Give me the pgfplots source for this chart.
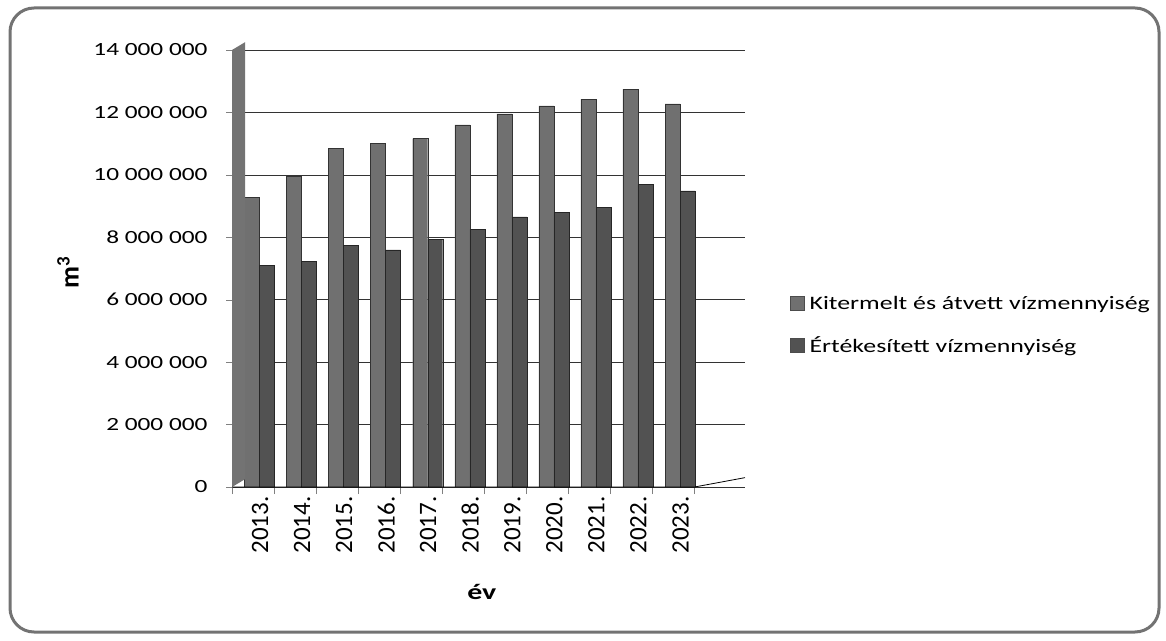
\documentclass[border=0pt]{standalone}
\usepackage{pgfplots}
\pgfplotsset{compat=1.18}
\usepackage{fontspec}
\setmainfont[FakeStretch=1.36]{Carlito}
\newfontfamily\rotfont{Carlito}
\definecolor{serA}{gray}{0.44}
\definecolor{serB}{gray}{0.32}
\begin{document}
\begin{tikzpicture}[x=1pt,y=1pt]
\path (0,0) rectangle (1166,640);
\draw[black!55, line width=3pt, rounded corners=24pt] (10,8) rectangle (1159,632);
\begin{axis}[
  at={(232pt,153pt)}, anchor=south west,
  scale only axis, width=513pt, height=437pt,
  xmin=-0.5, xmax=11.7, ymin=0, ymax=14000000,
  clip=false,
  ybar, bar width=15pt,
  axis x line*=bottom, axis y line*=left,
  x axis line style={draw=none}, y axis line style={draw=none},
  tick pos=left, tick align=outside,
  xtick={0,...,10},
  xticklabels={2013.,2014.,2015.,2016.,2017.,2018.,2019.,2020.,2021.,2022.,2023.},
  major x tick style={draw=none},
  minor xtick={-0.5,0.5,...,10.5},
  minor tick length=7pt,
  x tick label style={font=\rotfont\fontsize{25}{25}\selectfont, rotate=90, anchor=east, yshift=-7pt},
  ytick={0,2000000,...,14000000},
  scaled y ticks=false,
  major tick length=6pt,
  y tick label style={font=\fontsize{18.6}{20}\selectfont, xshift=-15pt},
  yticklabel={\pgfmathprintnumber[fixed,precision=0,1000 sep={\ },assume math mode=true]{\tick}},
  ymajorgrids, grid style={black!80, line width=0.7pt},
  xlabel={\bfseries év},
  xlabel style={at={(rel axis cs:0.487,-0.240)}, anchor=center, font=\fontsize{22}{24}\selectfont},
  ylabel={\rotfont\bfseries m\textsuperscript{3}},
  ylabel style={at={(rel axis cs:-0.3197,0.49)}, anchor=center, font=\fontsize{27}{28}\selectfont},
  legend style={at={(rel axis cs:1.0877,0.37)}, anchor=west, draw=none, fill=none,
    font=\fontsize{19}{21}\selectfont, row sep=22pt, inner sep=0pt,
    cells={anchor=west},
    /tikz/every odd column/.append style={column sep=3pt}},
  legend image code/.code={\draw[#1, draw=black!70] (0pt,-7pt) rectangle (14pt,7pt);},
]
\addplot[fill=serA, draw=black!80, bar shift=-1pt] coordinates {
  (0,9270000) (1,9950000) (2,10840000) (3,11020000) (4,11160000) (5,11600000)
  (6,11950000) (7,12210000) (8,12430000) (9,12750000) (10,12270000)};
\addplot[fill=serB, draw=black!85, bar shift=14pt] coordinates {
  (0,7090000) (1,7230000) (2,7740000) (3,7600000) (4,7930000) (5,8250000)
  (6,8650000) (7,8790000) (8,8950000) (9,9690000) (10,9490000)};
\legend{Kitermelt és átvett vízmennyiség, Értékesített vízmennyiség}
\fill[black!55] (axis cs:-0.5,0) -- (axis cs:-0.5,14000000) -- (axis cs:-0.19,14250000) -- (axis cs:-0.19,250000) -- cycle;
\draw[black, line width=0.8pt] (axis cs:-0.5,0) -- (axis cs:10.5,0) -- (axis cs:11.7,300000);
\end{axis}
\end{tikzpicture}
\end{document}
